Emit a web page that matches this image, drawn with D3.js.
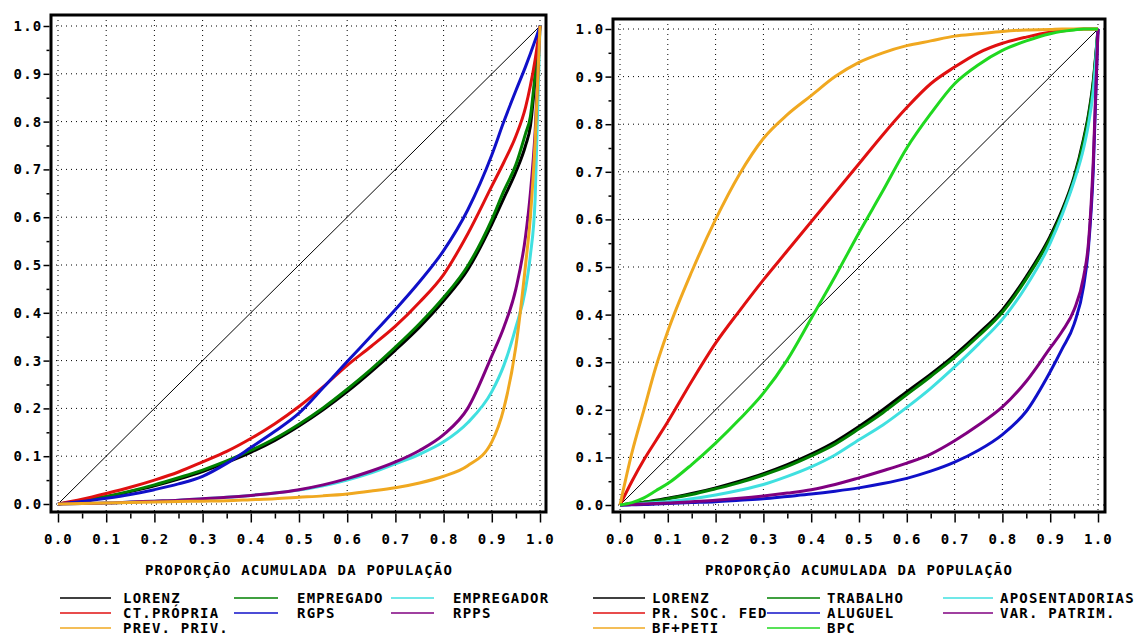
<!DOCTYPE html>
<html>
<head>
<meta charset="utf-8">
<script src="https://cdn.jsdelivr.net/npm/d3@7"></script>
<style>
body { margin: 0; background: #fff; }
svg text { font-family: "DejaVu Sans Mono", monospace; font-weight: bold; font-size: 14px; letter-spacing: 1.2px; fill: #000; }
</style>
</head>
<body>
<svg width="1136" height="637"></svg>
<script>
// tick values and labels (same on both axes, both panels)
var tickValues = [0, 0.1, 0.2, 0.3, 0.4, 0.5, 0.6, 0.7, 0.8, 0.9, 1.0];
var tickLabels = ["0.0", "0.1", "0.2", "0.3", "0.4", "0.5", "0.6", "0.7", "0.8", "0.9", "1.0"];
var minorTicks = [0.05, 0.15, 0.25, 0.35, 0.45, 0.55, 0.65, 0.75, 0.85, 0.95];
var xTitle = "PROPORÇÃO ACUMULADA DA POPULAÇÃO";

// ---- left panel: population share (x) and cumulative income share of each source
var pLeft = [0, .05, .1, .15, .2, .25, .3, .35, .4, .45, .5, .55, .6, .65, .7, .75, .8, .85, .9, .925, .95, .97, .98, .99, 1];
var lorenzL    = [0, .006, .015, .026, .038, .052, .068, .087, .108, .133, .163, .197, .235, .277, .322, .37, .425, .49, .585, .64, .695, .75, .79, .89, 1];
var empregado  = [0, .007, .016, .027, .04, .055, .071, .09, .112, .137, .167, .201, .24, .282, .328, .377, .432, .498, .595, .655, .71, .775, .81, .9, 1];
var empregador = [0, .001, .002, .004, .006, .008, .011, .014, .018, .023, .029, .038, .05, .065, .084, .104, .13, .17, .235, .29, .37, .45, .52, .64, 1];
var ctPropria  = [0, .01, .022, .035, .05, .067, .088, .11, .137, .168, .204, .245, .29, .33, .372, .422, .48, .565, .665, .715, .77, .83, .875, .93, 1];
var rgps       = [0, .005, .012, .02, .03, .042, .058, .085, .118, .152, .19, .243, .298, .352, .407, .465, .53, .615, .73, .8, .865, .915, .942, .97, 1];
var rpps       = [0, .001, .002, .004, .006, .008, .011, .014, .018, .023, .03, .04, .053, .069, .088, .112, .145, .2, .31, .37, .45, .56, .65, .78, 1];
var prevPriv   = [0, .001, .002, .003, .004, .005, .006, .007, .009, .011, .014, .017, .021, .027, .034, .044, .058, .08, .13, .2, .33, .5, .6, .76, 1];
var leftNames  = ["LORENZ", "EMPREGADO", "EMPREGADOR", "CT.PRÓPRIA", "RGPS", "RPPS", "PREV. PRIV."];

// ---- right panel
var pRight = [0, .025, .05, .075, .1, .15, .2, .25, .3, .35, .4, .45, .5, .55, .6, .65, .7, .75, .8, .85, .9, .925, .95, .97, .98, .99, 1];
var lorenzR    = [0, .003, .006, .01, .014, .024, .036, .05, .066, .085, .107, .133, .165, .2, .238, .275, .315, .36, .41, .48, .565, .62, .69, .77, .82, .89, 1];
var trabalho   = [0, .003, .006, .009, .013, .022, .034, .047, .063, .081, .103, .128, .16, .194, .232, .27, .31, .355, .405, .475, .56, .615, .685, .765, .815, .885, 1];
var aposent    = [0, .001, .003, .005, .007, .013, .021, .031, .043, .06, .08, .105, .137, .168, .205, .245, .29, .338, .39, .46, .55, .61, .68, .75, .8, .87, 1];
var prSocFed   = [0, .05, .095, .135, .175, .26, .34, .408, .473, .534, .595, .656, .717, .778, .835, .885, .92, .95, .97, .983, .993, .996, .999, 1, 1, 1, 1];
var aluguel    = [0, .0005, .001, .002, .003, .005, .007, .01, .013, .018, .023, .029, .036, .045, .056, .071, .09, .115, .148, .197, .28, .328, .38, .46, .54, .7, 1];
var varPatrim  = [0, .001, .002, .003, .004, .007, .01, .014, .019, .025, .032, .043, .057, .072, .088, .107, .135, .168, .206, .26, .33, .365, .41, .48, .55, .72, 1];
var bfPeti     = [0, .11, .2, .29, .365, .49, .6, .695, .77, .82, .86, .9, .93, .95, .965, .975, .985, .99, .995, .998, .999, 1, 1, 1, 1, 1, 1];
var bpc        = [0, .005, .015, .03, .045, .085, .13, .18, .235, .305, .392, .48, .572, .66, .75, .822, .885, .925, .955, .975, .99, .995, .998, 1, 1, 1, 1];
var rightNames = ["LORENZ", "TRABALHO", "APOSENTADORIAS", "PR. SOC. FED", "ALUGUEL", "VAR. PATRIM.", "BF+PETI", "BPC"];

var svg = d3.select("svg");

var drawPanel = function(cfg)
{
    var x = d3.scaleLinear().domain([0, 1]).range(cfg.xr);
    var y = d3.scaleLinear().domain([0, 1]).range(cfg.yr);
    var f = cfg.frame;
    var g = svg.append("g");

    // dotted grid
    g.selectAll(".gx").data(tickValues).enter().append("line")
        .attr("x1", d => x(d)).attr("x2", d => x(d))
        .attr("y1", f.top).attr("y2", f.bottom)
        .attr("stroke", "#000").attr("stroke-width", 1).attr("stroke-dasharray", "1,4");
    g.selectAll(".gy").data(tickValues).enter().append("line")
        .attr("y1", d => y(d)).attr("y2", d => y(d))
        .attr("x1", f.left).attr("x2", f.right)
        .attr("stroke", "#000").attr("stroke-width", 1).attr("stroke-dasharray", "1,4");

    // equality line
    g.append("line")
        .attr("x1", x(0)).attr("y1", y(0)).attr("x2", x(1)).attr("y2", y(1))
        .attr("stroke", "#000").attr("stroke-width", 1);

    var line = d3.line()
        .x(d => x(d[0])).y(d => y(d[1]))
        .curve(d3.curveMonotoneX);

    cfg.series.forEach(function(s) {
        g.append("path")
            .datum(cfg.p.map((p, i) => [p, s.values[i]]))
            .attr("d", line)
            .attr("fill", "none")
            .attr("stroke", s.color)
            .attr("stroke-width", 3)
            .attr("stroke-linejoin", "round");
    });

    // frame
    g.append("rect")
        .attr("x", f.left).attr("y", f.top)
        .attr("width", f.right - f.left).attr("height", f.bottom - f.top)
        .attr("fill", "none").attr("stroke", "#000").attr("stroke-width", 3);

    // axes
    var xAxis = d3.axisBottom(x).tickValues(tickValues)
        .tickFormat((d, i) => tickLabels[i]).tickSize(9).tickPadding(12);
    var xMinor = d3.axisBottom(x).tickValues(minorTicks).tickFormat("").tickSize(5);
    var yAxis = d3.axisLeft(y).tickValues(tickValues)
        .tickFormat((d, i) => tickLabels[i]).tickSize(6).tickPadding(1);
    var yMinor = d3.axisLeft(y).tickValues(minorTicks).tickFormat("").tickSize(3);

    [xAxis, xMinor].forEach(function(a) {
        g.append("g").attr("transform", "translate(0," + (f.bottom + 1.5) + ")")
            .call(a).call(s => s.select(".domain").remove())
            .selectAll("line").attr("stroke-width", 1.5);
    });
    [yAxis, yMinor].forEach(function(a) {
        g.append("g").attr("transform", "translate(" + (f.left - 1.5) + ",0)")
            .call(a).call(s => s.select(".domain").remove())
            .selectAll("line").attr("stroke-width", 1.5);
    });

    g.append("text")
        .attr("x", (x(0) + x(1)) / 2).attr("y", 575)
        .attr("text-anchor", "middle")
        .text(xTitle);

    // legend (3 columns, row-major)
    var rows = [598, 613, 628];
    cfg.series.forEach(function(s, i) {
        var c = cfg.legendCols[i % 3];
        var ry = rows[Math.floor(i / 3)];
        g.append("line")
            .attr("x1", c[0]).attr("x2", c[1]).attr("y1", ry).attr("y2", ry)
            .attr("stroke", s.color).attr("stroke-width", 1.5);
        g.append("text").attr("x", c[2]).attr("y", ry + 5).text(s.name);
    });
};

var leftColors = ["#000000", "#008000", "#40e0e0", "#e01010", "#1010c8", "#800080", "#f0a820"];
var leftVals = [lorenzL, empregado, empregador, ctPropria, rgps, rpps, prevPriv];
var rightColors = ["#000000", "#008000", "#40e0e0", "#e01010", "#1010c8", "#800080", "#f0a820", "#20d820"];
var rightVals = [lorenzR, trabalho, aposent, prSocFed, aluguel, varPatrim, bfPeti, bpc];

drawPanel({
    xr: [58, 540], yr: [504, 26],
    frame: {left: 51, right: 546, top: 15, bottom: 512},
    p: pLeft,
    series: leftNames.map((n, i) => ({name: n, values: leftVals[i], color: leftColors[i]})),
    legendCols: [[60, 111, 123], [234, 278, 297], [391, 434, 453]]
});

drawPanel({
    xr: [620, 1098], yr: [505, 29],
    frame: {left: 613, right: 1105, top: 19, bottom: 512},
    p: pRight,
    series: rightNames.map((n, i) => ({name: n, values: rightVals[i], color: rightColors[i]})),
    legendCols: [[593, 645, 652], [767, 820, 827], [943, 993, 1000]]
});
</script>
</body>
</html>
